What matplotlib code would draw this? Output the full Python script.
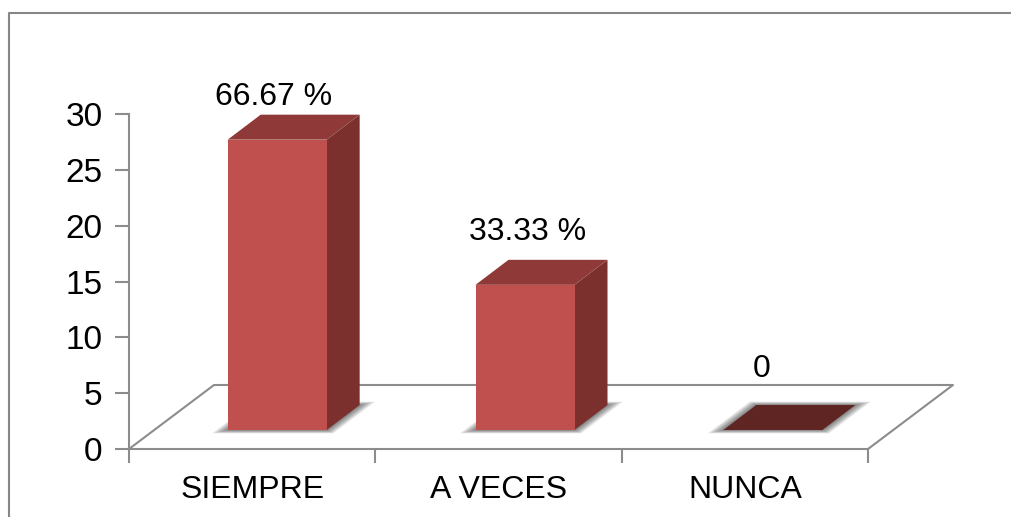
import matplotlib
matplotlib.use("Agg")
import matplotlib.pyplot as plt
from matplotlib.lines import Line2D
from matplotlib.patches import Polygon, Rectangle

categories = ["SIEMPRE", "A VECES", "NUNCA"]
values = [26, 13, 0]
labels = ["66.67 %", "33.33 %", "0"]
y_ticks = [0, 5, 10, 15, 20, 25, 30]

plt.rcParams['font.family'] = ['Liberation Sans', 'DejaVu Sans']

W, H = 1011, 517
fig = plt.figure(figsize=(W / 100, H / 100), dpi=100)

# outer frame, only top and left are inside the picture
fig.add_artist(Line2D([8.5 / W, 8.5 / W, 1], [0, 1 - 12.5 / H, 1 - 12.5 / H],
                      transform=fig.transFigure, color="#868686", linewidth=1.5))

# axes box in pixels: x 129-868, y 449-114
ax = fig.add_axes([129 / W, 1 - 449 / H, (868 - 129) / W, (449 - 114) / H])
ax.set_xlim(-0.5, 2.5)
ax.set_ylim(0, 30)
ax.patch.set_alpha(0)

px_x = 3 / (868 - 129)
px_y = 30 / (449 - 114)

for s in ["top", "right"]:
    ax.spines[s].set_visible(False)
for s in ["left", "bottom"]:
    ax.spines[s].set_color("#8c8c8c")
    ax.spines[s].set_linewidth(1.5)

ax.set_yticks(y_ticks)
ax.set_xticks([-0.5, 0.5, 1.5, 2.5])
ax.set_xticklabels([])
ax.tick_params(axis="both", length=10, width=1.5, color="#8c8c8c", labelsize=24, pad=9)

for i, c in enumerate(categories):
    ax.annotate(c, (i, 0), xytext=(0, -41), textcoords="offset pixels", ha="center", va="center", fontsize=23)

# floor of the 3d chart
floor_dx = 85 * px_x
floor_dy = 64 * px_y
ax.plot([-0.5, -0.5 + floor_dx, 2.5 + floor_dx, 2.5], [0, floor_dy, floor_dy, 0],
        color="#8c8c8c", lw=1.5, clip_on=False, zorder=1)

bar_w = 99 * px_x
lift = 19 * px_y
dx = 33 * px_x
dy = 25 * px_y

# label offsets from the top of each bar, in pixels
label_off = [(21, 62), (29, 72), (17, 80)]

for i, v in enumerate(values):
    x0 = i - 0.5 * bar_w + (25 + i * 1.5) * px_x
    x1 = x0 + bar_w
    b = lift
    t = lift + v

    # soft shadow on the floor, a few wide see through layers
    for grow in [11, 9, 7, 5, 3, 1]:
        g = grow * px_x
        h = grow * 0.3 * px_y
        ax.add_patch(Polygon([(x0 - g * 1.4, b - h), (x1 + g * 0.6, b - h),
                              (x1 + dx + g * 1.4, b + dy + h), (x0 + dx - g * 0.6, b + dy + h)],
                             closed=True, facecolor="#000000", edgecolor="none", alpha=0.1,
                             zorder=2, clip_on=False))

    if v > 0:
        ax.add_patch(Polygon([(x1, b), (x1 + dx, b + dy), (x1 + dx, t + dy), (x1, t)],
                             closed=True, facecolor="#7B302E", edgecolor="none", zorder=3, clip_on=False))
        ax.add_patch(Polygon([(x0, t), (x1, t), (x1 + dx, t + dy), (x0 + dx, t + dy)],
                             closed=True, facecolor="#8F3A38", edgecolor="none", zorder=3, clip_on=False))
        ax.add_patch(Rectangle((x0, b), bar_w, v, facecolor="#C0504D", edgecolor="none", zorder=4, clip_on=False))
    else:
        ax.add_patch(Polygon([(x0, b), (x1, b), (x1 + dx, b + dy), (x0 + dx, b + dy)],
                             closed=True, facecolor="#5E2522", edgecolor="none", zorder=3, clip_on=False))

    # data label
    ax.annotate(labels[i], (i, v), xytext=label_off[i], textcoords="offset pixels",
                ha="center", va="center", fontsize=23, annotation_clip=False, zorder=5)

fig.savefig("out.png", dpi=100)
